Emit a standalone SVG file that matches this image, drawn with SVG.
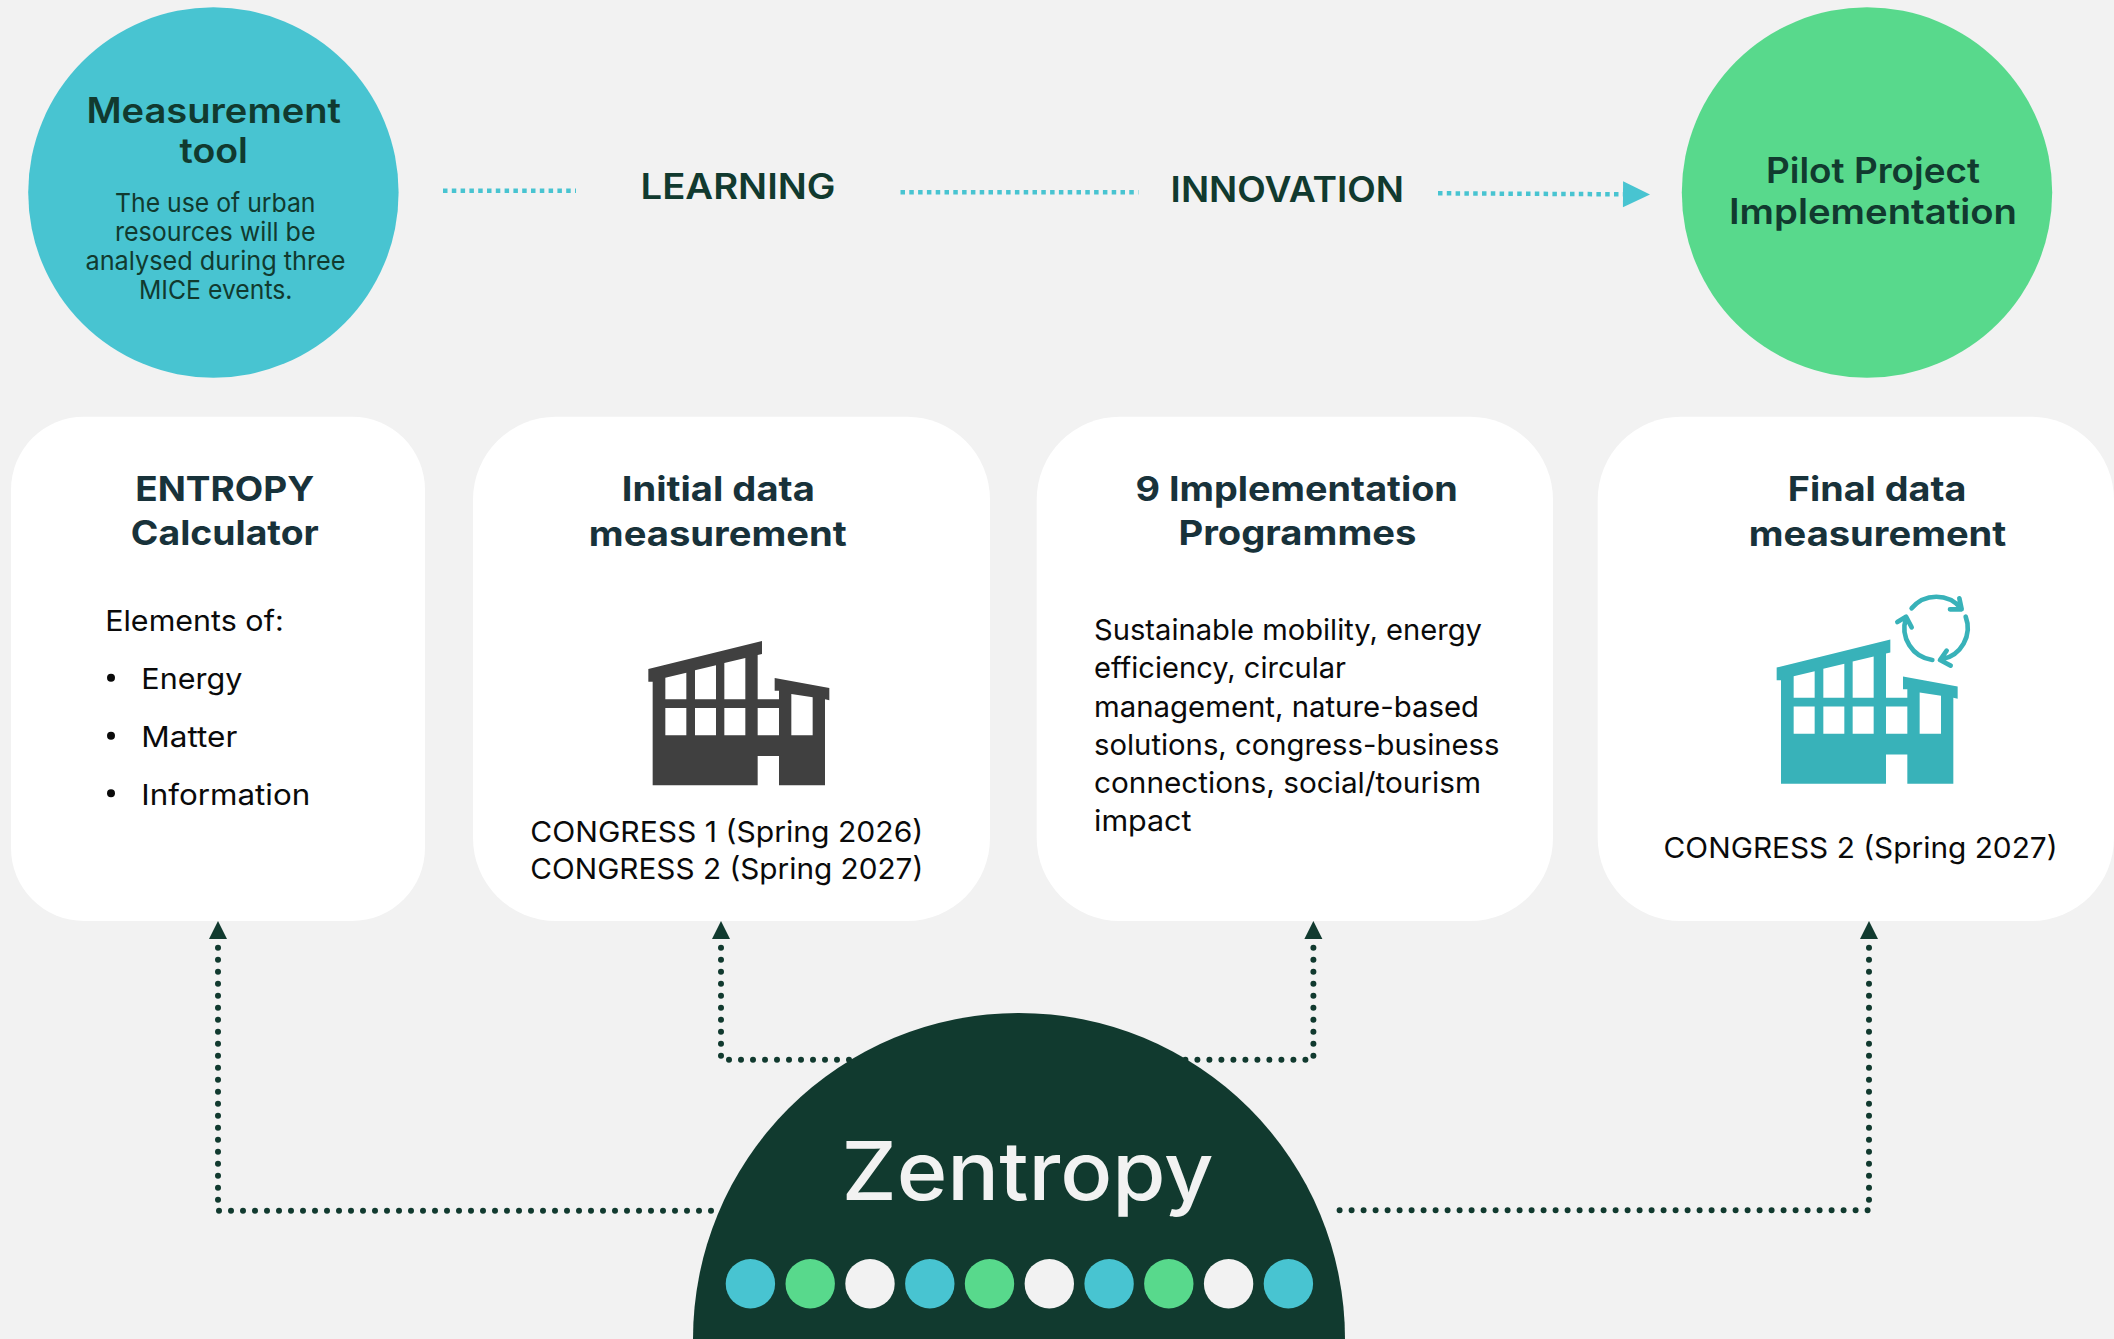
<svg xmlns="http://www.w3.org/2000/svg" width="2114" height="1339" viewBox="0 0 2114 1339">
<style>
text{font-family:"Inter","Liberation Sans",sans-serif}
.h{font-size:34px;font-weight:700;fill:#18323a}
.hd{font-size:35px;font-weight:600;fill:#113a2f}
.lab{font-size:35px;font-weight:600;fill:#113a2f}
.sm{font-size:26px;font-weight:400;fill:#113a2f}
.b{font-size:29px;font-weight:400;fill:#0a0a0a}
.card{fill:#fff}
.dots{fill:none;stroke:#113a2f;stroke-width:6;stroke-linecap:round;stroke-dasharray:0 12}
.flow{fill:none;stroke:#48c4d1;stroke-width:4.5;stroke-dasharray:4.5 4.3}
.t{fill:#48c4d1}.g{fill:#58d98c}.w{fill:#f2f2f2}
.rec{fill:none;stroke:#38b2b9;stroke-width:14;stroke-linecap:round;stroke-linejoin:round}
</style>
<defs>
<marker id="up" markerUnits="userSpaceOnUse" viewBox="0 0 18 18" markerWidth="18" markerHeight="18" refX="-8.7" refY="9" orient="auto-start-reverse" overflow="visible"><polygon points="0,0 18,9 0,18" fill="#113a2f"/></marker>
<marker id="flowhead" markerUnits="userSpaceOnUse" viewBox="0 0 27 26" markerWidth="27" markerHeight="26" refX="0" refY="13" orient="auto" overflow="visible"><polygon points="0,0 27,13 0,26" fill="#48c4d1"/></marker>
<path id="building" transform="scale(0.33333)" fill-rule="evenodd" d="M145,207 L486,123 L486,162 L473,165 L473,298 L537,298 L537,272 L524,272 L524,234 L688,264 L688,301 L675,298 L675,556 L537,556 L537,468 L473,468 L473,556 L158,556 L158,245 L145,245 Z M196,233 L259,218 L259,298 L196,298 Z M285,211 L348,196 L348,298 L285,298 Z M373,189 L436,174 L436,298 L373,298 Z M196,324 H259 V406 H196 Z M285,324 H348 V406 H285 Z M373,324 H436 V406 H373 Z M473,324 H537 V406 H473 Z M574,282 L638,292 L638,406 L574,406 Z"/>
</defs>
<rect width="2114" height="1339" fill="#f2f2f2"/>

<g id="connectors">
<path class="flow" d="M443,190.7 H576"/>
<path class="flow" d="M900.5,192.3 H1138.5"/>
<path class="flow" d="M1438,193.3 L1623,194.3" marker-end="url(#flowhead)"/>
<path class="dots" d="M218,947.7 V1210.7 H712" marker-start="url(#up)"/>
<path class="dots" d="M721,947.7 V1059.7 H860" marker-start="url(#up)"/>
<path class="dots" d="M1313.4,947.7 V1059.7 H1180" marker-start="url(#up)"/>
<path class="dots" d="M1869,947.7 V1210.3 H1339" marker-start="url(#up)"/>
</g>

<g id="measurement-tool">
<circle class="t" cx="213.4" cy="192.5" r="185.2"/>
<text class="hd" x="86.4" y="122.7" textLength="254.6" lengthAdjust="spacingAndGlyphs">Measurement</text>
<text class="hd" x="179.5" y="162.7" textLength="68.4" lengthAdjust="spacingAndGlyphs">tool</text>
<text class="sm" x="115" y="211.7" textLength="200.5" lengthAdjust="spacingAndGlyphs">The use of urban</text>
<text class="sm" x="115" y="240.7" textLength="200.5" lengthAdjust="spacingAndGlyphs">resources will be</text>
<text class="sm" x="85.5" y="269.5" textLength="260" lengthAdjust="spacingAndGlyphs">analysed during three</text>
<text class="sm" x="139" y="298.5" textLength="153.5" lengthAdjust="spacingAndGlyphs">MICE events.</text>
</g>

<g id="learning"><text class="lab" x="640.5" y="199" textLength="195" lengthAdjust="spacingAndGlyphs">LEARNING</text></g>
<g id="innovation"><text class="lab" x="1170.6" y="201.7" textLength="233.5" lengthAdjust="spacingAndGlyphs">INNOVATION</text></g>

<g id="pilot-project">
<circle class="g" cx="1867" cy="192.5" r="185.2"/>
<text class="hd" x="1766" y="182.7" textLength="214" lengthAdjust="spacingAndGlyphs">Pilot Project</text>
<text class="hd" x="1729" y="223.8" textLength="288" lengthAdjust="spacingAndGlyphs">Implementation</text>
</g>

<g id="entropy-calculator">
<rect class="card" x="11" y="416.7" width="414" height="504.3" rx="73"/>
<text class="h" x="135.2" y="500.7" textLength="179" lengthAdjust="spacingAndGlyphs">ENTROPY</text>
<text class="h" x="130.8" y="545.3" textLength="188" lengthAdjust="spacingAndGlyphs">Calculator</text>
<text class="b" x="105.2" y="631.3" textLength="178.5" lengthAdjust="spacingAndGlyphs">Elements of:</text>
<circle cx="111" cy="677.7" r="4" fill="#0a0a0a"/>
<circle cx="111" cy="735.7" r="4" fill="#0a0a0a"/>
<circle cx="111" cy="793.3" r="4" fill="#0a0a0a"/>
<text class="b" x="141.3" y="689" textLength="101" lengthAdjust="spacingAndGlyphs">Energy</text>
<text class="b" x="141.3" y="746.5" textLength="96" lengthAdjust="spacingAndGlyphs">Matter</text>
<text class="b" x="141.3" y="804.5" textLength="169" lengthAdjust="spacingAndGlyphs">Information</text>
</g>

<g id="initial-data">
<rect class="card" x="473" y="416.7" width="517" height="504.3" rx="83"/>
<text class="h" x="621.8" y="500.7" textLength="193" lengthAdjust="spacingAndGlyphs">Initial data</text>
<text class="h" x="588.8" y="545.8" textLength="258" lengthAdjust="spacingAndGlyphs">measurement</text>
<use href="#building" transform="translate(600,600)" fill="#404040"/>
<text class="b" x="530.3" y="841.7" textLength="393" lengthAdjust="spacingAndGlyphs">CONGRESS 1 (Spring 2026)</text>
<text class="b" x="530.3" y="879.3" textLength="393" lengthAdjust="spacingAndGlyphs">CONGRESS 2 (Spring 2027)</text>
</g>

<g id="implementation-programmes">
<rect class="card" x="1036.7" y="416.7" width="516.3" height="504.3" rx="83"/>
<text class="h" x="1135.4" y="500.7" textLength="322.5" lengthAdjust="spacingAndGlyphs">9 Implementation</text>
<text class="h" x="1178.4" y="545.3" textLength="238" lengthAdjust="spacingAndGlyphs">Programmes</text>
<text class="b" x="1094" y="640.3" textLength="388" lengthAdjust="spacingAndGlyphs">Sustainable mobility, energy</text>
<text class="b" x="1094" y="678.4" textLength="252" lengthAdjust="spacingAndGlyphs">efficiency, circular</text>
<text class="b" x="1094" y="716.5" textLength="385" lengthAdjust="spacingAndGlyphs">management, nature-based</text>
<text class="b" x="1094" y="754.6" textLength="405.5" lengthAdjust="spacingAndGlyphs">solutions, congress-business</text>
<text class="b" x="1094" y="792.7" textLength="387" lengthAdjust="spacingAndGlyphs">connections, social/tourism</text>
<text class="b" x="1094" y="830.8" textLength="97.5" lengthAdjust="spacingAndGlyphs">impact</text>
</g>

<g id="final-data">
<rect class="card" x="1597.7" y="416.7" width="516.3" height="504.3" rx="83"/>
<text class="h" x="1787.8" y="500.7" textLength="178.5" lengthAdjust="spacingAndGlyphs">Final data</text>
<text class="h" x="1748.8" y="545.8" textLength="257.5" lengthAdjust="spacingAndGlyphs">measurement</text>
<use href="#building" transform="translate(1728.33,598.5)" fill="#38b2b9"/>
<g transform="translate(1740,570) scale(0.33333)" class="rec">
<path d="M515,115 A96,96 0 0 1 663,115 M658,85 L665,118 L630,118"/>
<path d="M677,140 A96,96 0 0 1 605,268 M620,242 L600,270 L632,287"/>
<path d="M577,270 A96,96 0 0 1 498,145 M472,156 L498,140 L515,172"/>
</g>
<text class="b" x="1663.6" y="857.7" textLength="394" lengthAdjust="spacingAndGlyphs">CONGRESS 2 (Spring 2027)</text>
</g>

<g id="zentropy">
<path d="M693,1339 A326,326 0 0 1 1345,1339 Z" fill="#113a2f"/>
<text x="841.5" y="1200.3" font-size="81" font-weight="500" fill="#f2f2f2" textLength="372" lengthAdjust="spacingAndGlyphs">Zentropy</text>
<circle class="t" cx="750.4" cy="1283.7" r="24.7"/>
<circle class="g" cx="810.2" cy="1283.7" r="24.7"/>
<circle class="w" cx="870" cy="1283.7" r="24.7"/>
<circle class="t" cx="929.8" cy="1283.7" r="24.7"/>
<circle class="g" cx="989.5" cy="1283.7" r="24.7"/>
<circle class="w" cx="1049.3" cy="1283.7" r="24.7"/>
<circle class="t" cx="1109.1" cy="1283.7" r="24.7"/>
<circle class="g" cx="1168.8" cy="1283.7" r="24.7"/>
<circle class="w" cx="1228.6" cy="1283.7" r="24.7"/>
<circle class="t" cx="1288.4" cy="1283.7" r="24.7"/>
</g>
</svg>
